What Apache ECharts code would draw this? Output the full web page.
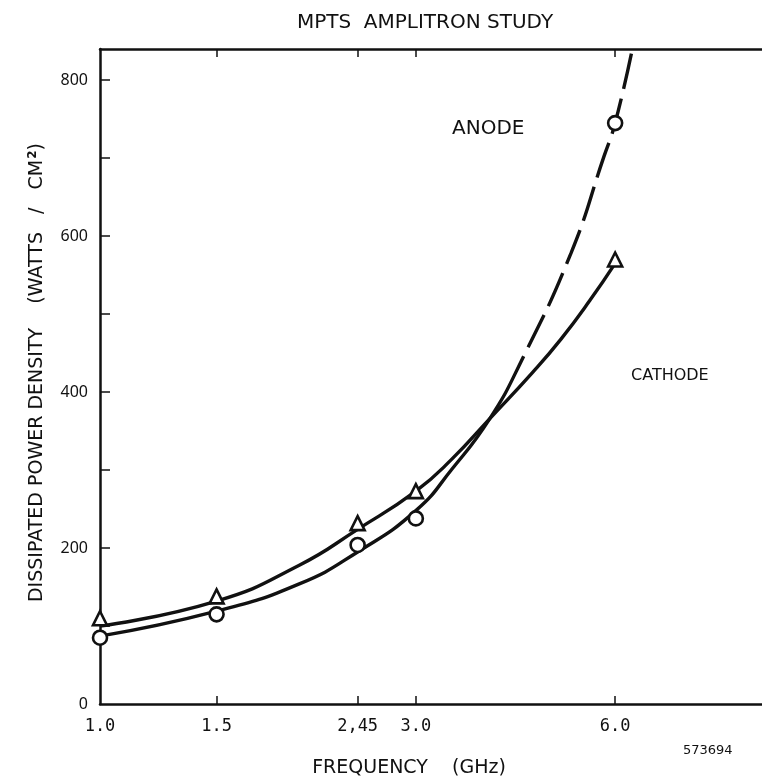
<!DOCTYPE html>
<html>
<head>
<meta charset="utf-8">
<script src="https://cdn.jsdelivr.net/npm/echarts@6/dist/echarts.min.js"></script>
<style>html,body{margin:0;padding:0;background:#fff;}#c{width:762px;height:783px;}</style>
</head>
<body>
<div id="c"></div>
<script>
// ---- data ----
const xTickValues = [1, 1.5, 2.45, 3, 6];
const xTickLabels = ['1.0', '1.5', '2,45', '3.0', '6.0'];
const xMinorTicks = [1.5, 2.45, 3, 6];
const yLabelValues = [0, 200, 400, 600, 800];
const yTickValues = [100, 200, 300, 400, 500, 600, 700, 800];

// measured points
const anodePoints = [[1.0, 85], [1.5, 115], [2.45, 204], [3.0, 238], [6.0, 745]];
const cathodePoints = [[1.0, 110], [1.5, 138], [2.45, 232], [3.0, 273], [6.0, 570]];

// fitted curves (anode: solid up to ~4.3 GHz, dashed beyond)
const anodeCurve = [[1.0, 87], [1.5, 119], [2.0, 154], [2.45, 195], [3.0, 248], [3.4, 301], [3.88, 366], [4.33, 440], [5.15, 579], [5.77, 702], [6.0, 745], [6.37, 840]];
const cathodeCurve = [[1.0, 100], [1.5, 132], [2.0, 178], [2.45, 224], [3.0, 273], [3.4, 314], [3.88, 366], [4.5, 425], [4.97, 468], [5.5, 518], [6.0, 565]];

const INK = '#111';
const FONT = 'DejaVu Sans';
const MONO = 'DejaVu Sans Mono';

// solid run (px) then dashes for the extrapolated part of the anode curve
const anodeDash = [534, 10];
for (let i = 0; i < 7; i++) anodeDash.push(36, 10);
anodeDash.push(80, 10);

const chart = echarts.init(document.getElementById('c'), null, {renderer: 'canvas'});

const xBase = {
  type: 'log', logBase: 10, min: 1, max: 10,
  splitLine: {show: false}, minorTick: {show: false},
  axisLine: {show: true, lineStyle: {color: INK, width: 2.5}},
};

chart.setOption({
  animation: false,
  backgroundColor: '#fff',
  title: {
    text: 'MPTS  AMPLITRON STUDY', left: 420, top: 8, textAlign: 'center',
    textStyle: {fontFamily: FONT, fontSize: 20, fontWeight: 'normal', color: INK}
  },
  grid: {left: 100, top: 49, width: 669, height: 658, containLabel: false},
  xAxis: [
    Object.assign({}, xBase, {
      position: 'bottom',
      name: 'FREQUENCY    (GHz)', nameLocation: 'middle', nameGap: 55,
      nameTextStyle: {fontFamily: FONT, fontSize: 19, color: INK, padding: [0, 44, 0, 0]},
      axisTick: {show: true, inside: true, length: 8, lineStyle: {color: INK, width: 1.5}, customValues: xMinorTicks},
      axisLabel: {
        show: true, customValues: xTickValues, margin: 14,
        fontFamily: MONO, fontSize: 17, color: INK,
        formatter: v => { const i = xTickValues.findIndex(t => Math.abs(t - v) < 1e-6); return i >= 0 ? xTickLabels[i] : ''; }
      }
    }),
    Object.assign({}, xBase, {
      position: 'top',
      axisTick: {show: true, inside: true, length: 8, lineStyle: {color: INK, width: 1.5}, customValues: xMinorTicks},
      axisLabel: {show: false}
    })
  ],
  yAxis: {
    type: 'value', min: 0, max: 840,
    splitLine: {show: false},
    axisLine: {show: true, lineStyle: {color: INK, width: 2.5}},
    axisTick: {show: true, inside: true, length: 10, lineStyle: {color: INK, width: 1.5}, customValues: yTickValues},
    axisLabel: {customValues: yLabelValues, margin: 12, fontFamily: 'Noto Sans', fontSize: 16, color: INK},
    name: '{a|DISSIPATED POWER DENSITY    (WATTS   /   CM}{s|2}{a|)}',
    nameLocation: 'middle', nameGap: 52, nameRotate: 90,
    nameTextStyle: {
      fontFamily: FONT, fontSize: 19, color: INK, padding: [0, 0, 0, 8],
      rich: {
        a: {fontFamily: FONT, fontSize: 19, color: INK},
        s: {fontFamily: FONT, fontSize: 12, color: INK, fontWeight: 'bold', verticalAlign: 'top', padding: [0, 0, 9, 1]}
      }
    }
  },
  series: [
    {type: 'line', name: 'anode curve', data: anodeCurve, smooth: 0.5, symbol: 'none',
     lineStyle: {color: INK, width: 3.4, type: anodeDash}, z: 2},
    {type: 'line', name: 'cathode curve', data: cathodeCurve, smooth: 0.5, symbol: 'none',
     lineStyle: {color: INK, width: 3.4}, z: 2},
    {type: 'scatter', name: 'anode', data: anodePoints, symbol: 'circle', symbolSize: 14,
     itemStyle: {color: '#fff', opacity: 1, borderColor: INK, borderWidth: 2.6}, z: 5},
    {type: 'scatter', name: 'cathode', data: cathodePoints, symbol: 'triangle', symbolSize: 14,
     itemStyle: {color: '#fff', opacity: 1, borderColor: INK, borderWidth: 2.6}, z: 5}
  ],
  graphic: [
    {type: 'text', left: 452, top: 119, style: {text: 'ANODE', fontFamily: FONT, fontSize: 20, fill: INK}},
    {type: 'text', left: 631, top: 368, style: {text: 'CATHODE', fontFamily: FONT, fontSize: 16, fill: INK}},
    {type: 'text', left: 683, top: 744, style: {text: '573694', fontFamily: FONT, fontSize: 13, fill: INK}}
  ]
});
</script>
</body>
</html>
